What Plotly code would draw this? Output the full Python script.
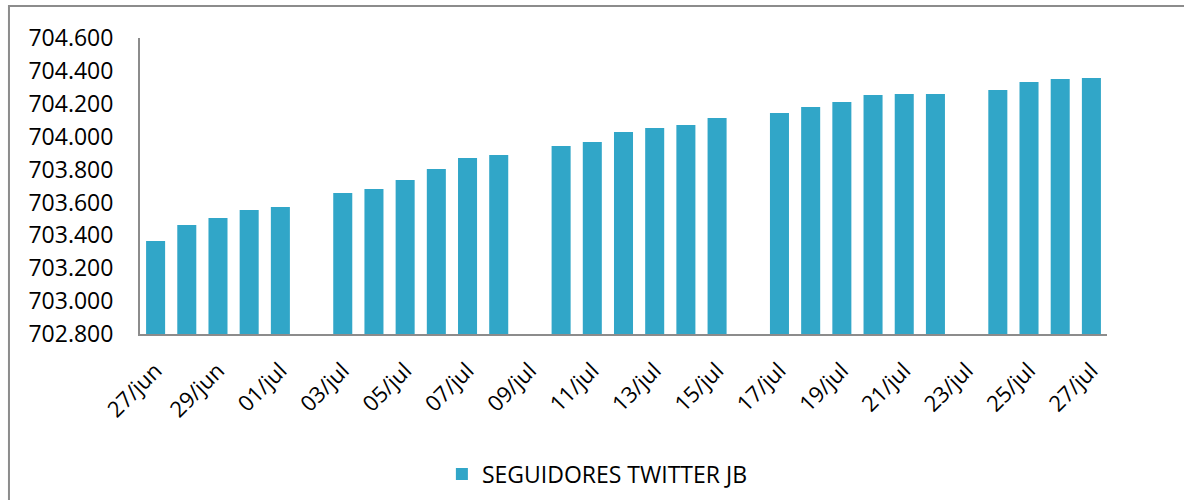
import plotly.graph_objects as go

dates = ["27/jun", "28/jun", "29/jun", "30/jun", "01/jul", "02/jul", "03/jul", "04/jul",
         "05/jul", "06/jul", "07/jul", "08/jul", "09/jul", "10/jul", "11/jul", "12/jul",
         "13/jul", "14/jul", "15/jul", "16/jul", "17/jul", "18/jul", "19/jul", "20/jul",
         "21/jul", "22/jul", "23/jul", "24/jul", "25/jul", "26/jul", "27/jul"]
followers = [703365, 703463, 703505, 703554, 703572, None, 703657, 703682,
             703736, 703803, 703870, 703889, None, 703943, 703968, 704028,
             704053, 704071, 704114, None, 704144, 704180, 704211, 704253,
             704259, 704259, None, 704284, 704332, 704351, 704357]
tick_labels = dates[::2]
y_ticks = [702800, 703000, 703200, 703400, 703600, 703800, 704000, 704200, 704400, 704600]
series_name = "SEGUIDORES TWITTER JB"

FONT = "Open Sans"
AXIS_GRAY = "#8c8c8c"

fig = go.Figure()
fig.add_trace(go.Bar(
    x=dates, y=followers, name=series_name,
    marker=dict(color="#31a6c8", line=dict(width=0)),
    showlegend=True,
))

fig.update_layout(
    width=1184, height=500,
    margin=dict(l=140, r=77, t=38, b=166, autoexpand=False),
    paper_bgcolor="white", plot_bgcolor="white",
    separators=",.",
    bargap=0.39,
    font=dict(family=FONT, color="black"),
    legend=dict(orientation="h", x=0.473, xanchor="center", y=-0.473, yanchor="middle",
                font=dict(size=23, family=FONT, color="black"), itemwidth=30),
    xaxis=dict(type="category", categoryorder="array", categoryarray=dates,
               tickmode="array", tickvals=tick_labels, ticktext=tick_labels,
               tickangle=-45, tickfont=dict(size=22, family=FONT),
               ticklabelstandoff=13, automargin=False,
               showline=True, linecolor=AXIS_GRAY, linewidth=2, showgrid=False,
               ticks="", zeroline=False),
    yaxis=dict(range=[702800, 704600], tickmode="array", tickvals=y_ticks,
               tickformat=",d", tickfont=dict(size=23, family=FONT),
               ticklabelstandoff=20, automargin=False,
               showline=True, linecolor=AXIS_GRAY, linewidth=2, showgrid=False,
               ticks="", zeroline=False),
    shapes=[dict(type="rect", xref="paper", yref="paper",
                 x0=-0.1355, x1=1.3, y0=-1.0, y1=1.108,
                 line=dict(color=AXIS_GRAY, width=2), fillcolor="rgba(0,0,0,0)", layer="below")],
)

fig.write_html("out.html", config={"displayModeBar": False},
               post_script="document.body.style.margin='0px';document.body.style.overflow='hidden';")
